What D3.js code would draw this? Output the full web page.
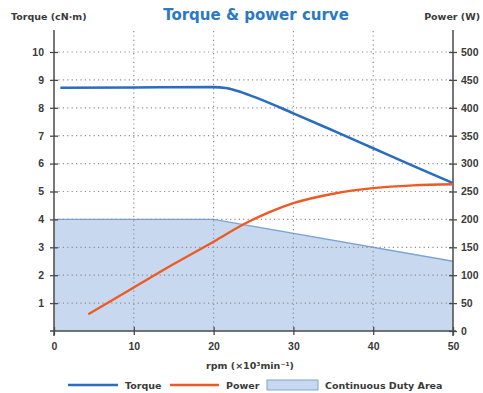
<!DOCTYPE html>
<html>
<head>
<meta charset="utf-8">
<script src="https://cdn.jsdelivr.net/npm/d3@7"></script>
<style>
  html, body { margin: 0; padding: 0; background: #fff; }
  svg { display: block; font-family: "DejaVu Sans", Verdana, sans-serif; }
</style>
</head>
<body>
<svg id="chart" width="483" height="393"></svg>
<script>
// Speed axis (×10³ min⁻¹) and tick values
const rpmTicks = [0, 10, 20, 30, 40, 50];
const torqueTicks = [1, 2, 3, 4, 5, 6, 7, 8, 9, 10];
const powerTicks = [0, 50, 100, 150, 200, 250, 300, 350, 400, 450, 500];

// Torque curve (cN·m)
const torqueRpm = [0.8, 10, 20, 21.5, 23, 25, 30, 35, 40, 45, 50];
const torqueVals = [8.72, 8.73, 8.74, 8.71, 8.6, 8.4, 7.8, 7.18, 6.55, 5.92, 5.3];

// Power curve (W)
const powerRpm = [4.3, 10, 15, 20, 24, 27, 30, 35, 40, 45, 50];
const powerVals = [30, 78, 120, 160, 193, 213, 229, 246, 256, 261, 263];

// Continuous duty boundary (cN·m)
const dutyRpm = [0, 20, 50];
const dutyVals = [4, 4, 2.5];

const svg = d3.select("#chart");
const plotL = 54, plotR = 453, plotT = 52, plotB = 331;

const x = d3.scaleLinear().domain([0, 50]).range([plotL, plotR]);
const y = d3.scaleLinear().domain([0, 10]).range([plotB, plotT]);
const y2 = d3.scaleLinear().domain([0, 500]).range([plotB, plotT]);

const textColor = "#3a3a3a";
const axisColor = "#4a4a4a";
const gridColor = "#8f8f8f";
const torqueColor = "#2a6cbf";
const powerColor = "#ee5a24";
const areaFill = "#c8d9ef";
const areaEdge = "#7aa3d6";

// Continuous duty area
const duty = dutyRpm.map((r, i) => [r, dutyVals[i]]);
svg.append("path")
  .datum(duty)
  .attr("fill", areaFill)
  .attr("d", d3.area().x(d => x(d[0])).y0(y(0)).y1(d => y(d[1])));
svg.append("path")
  .datum(duty)
  .attr("fill", "none")
  .attr("stroke", areaEdge)
  .attr("stroke-width", 1.3)
  .attr("d", d3.line().x(d => x(d[0])).y(d => y(d[1])));

// Dotted grid
const grid = svg.append("g")
  .attr("stroke", gridColor)
  .attr("stroke-width", 1.2)
  .attr("stroke-dasharray", "1.2 3.2");
grid.selectAll("line.h")
  .data(torqueTicks)
  .join("line")
  .attr("class", "h")
  .attr("x1", plotL).attr("x2", plotR)
  .attr("y1", d => y(d)).attr("y2", d => y(d));
grid.selectAll("line.v")
  .data(rpmTicks.filter(d => d > 0 && d < 50))
  .join("line")
  .attr("class", "v")
  .attr("x1", d => x(d)).attr("x2", d => x(d))
  .attr("y1", 31).attr("y2", plotB);

// Axes
function styleAxis(g) {
  g.select(".domain").remove();
  g.selectAll(".tick line").attr("stroke", axisColor).attr("stroke-width", 1.3);
  g.selectAll(".tick text")
    .attr("fill", textColor)
    .attr("font-family", "'Liberation Sans', Arial, sans-serif")
    .attr("font-size", "10.5px")
    .attr("font-weight", "bold");
}

const leftAxis = svg.append("g")
  .attr("transform", `translate(${plotL},0)`)
  .call(d3.axisLeft(y).tickValues(torqueTicks).tickSize(4).tickPadding(6))
  .call(styleAxis);
leftAxis.selectAll(".tick line").attr("x2", 4).attr("x1", -4);
leftAxis.append("line")
  .attr("x1", 0).attr("x2", 0).attr("y1", 30).attr("y2", 336)
  .attr("stroke", axisColor).attr("stroke-width", 1.5);

const rightAxis = svg.append("g")
  .attr("transform", `translate(${plotR},0)`)
  .call(d3.axisRight(y2).tickValues(powerTicks).tickSize(4).tickPadding(4))
  .call(styleAxis);
rightAxis.selectAll(".tick line").attr("x1", -4).attr("x2", 4);
rightAxis.append("line")
  .attr("x1", 0).attr("x2", 0).attr("y1", 30).attr("y2", 336)
  .attr("stroke", axisColor).attr("stroke-width", 1.5);

const bottomAxis = svg.append("g")
  .attr("transform", `translate(0,${plotB})`)
  .call(d3.axisBottom(x).tickValues(rpmTicks).tickSize(4).tickPadding(8))
  .call(styleAxis);
bottomAxis.selectAll(".tick line").attr("y1", -4).attr("y2", 4);
bottomAxis.append("line")
  .attr("x1", plotL - 4).attr("x2", plotR + 3).attr("y1", 0).attr("y2", 0)
  .attr("stroke", axisColor).attr("stroke-width", 1.5);

// Curves
svg.append("path")
  .datum(torqueRpm.map((r, i) => [r, torqueVals[i]]))
  .attr("fill", "none")
  .attr("stroke", torqueColor)
  .attr("stroke-width", 2.6)
  .attr("d", d3.line().curve(d3.curveMonotoneX).x(d => x(d[0])).y(d => y(d[1])));
svg.append("path")
  .datum(powerRpm.map((r, i) => [r, powerVals[i]]))
  .attr("fill", "none")
  .attr("stroke", powerColor)
  .attr("stroke-width", 2.4)
  .attr("d", d3.line().curve(d3.curveMonotoneX).x(d => x(d[0])).y(d => y2(d[1])));

// Titles
svg.append("text")
  .attr("x", 256).attr("y", 20)
  .attr("text-anchor", "middle")
  .attr("fill", "#2b78c6")
  .attr("font-size", "15px")
  .attr("font-weight", "bold")
  .text("Torque & power curve");
svg.append("text")
  .attr("x", 11).attr("y", 20)
  .attr("fill", textColor)
  .attr("font-size", "9.5px")
  .attr("font-weight", "bold")
  .text("Torque (cN·m)");
svg.append("text")
  .attr("x", 480).attr("y", 20)
  .attr("text-anchor", "end")
  .attr("fill", textColor)
  .attr("font-size", "9.5px")
  .attr("font-weight", "bold")
  .text("Power (W)");
svg.append("text")
  .attr("x", 250).attr("y", 369)
  .attr("text-anchor", "middle")
  .attr("fill", textColor)
  .attr("font-size", "9.5px")
  .attr("font-weight", "bold")
  .text("rpm (×10³min⁻¹)");

// Legend
const legend = svg.append("g").attr("font-size", "9.5px").attr("font-weight", "bold").attr("fill", textColor);
legend.append("line").attr("x1", 68).attr("x2", 118).attr("y1", 385).attr("y2", 385)
  .attr("stroke", torqueColor).attr("stroke-width", 2.4);
legend.append("text").attr("x", 125).attr("y", 389).text("Torque");
legend.append("line").attr("x1", 170).attr("x2", 219).attr("y1", 385).attr("y2", 385)
  .attr("stroke", powerColor).attr("stroke-width", 2.4);
legend.append("text").attr("x", 226).attr("y", 389).text("Power");
legend.append("rect").attr("x", 267).attr("y", 380).attr("width", 51).attr("height", 10)
  .attr("fill", areaFill).attr("stroke", areaEdge).attr("stroke-width", 1);
legend.append("text").attr("x", 325).attr("y", 389).text("Continuous Duty Area");
</script>
</body>
</html>
